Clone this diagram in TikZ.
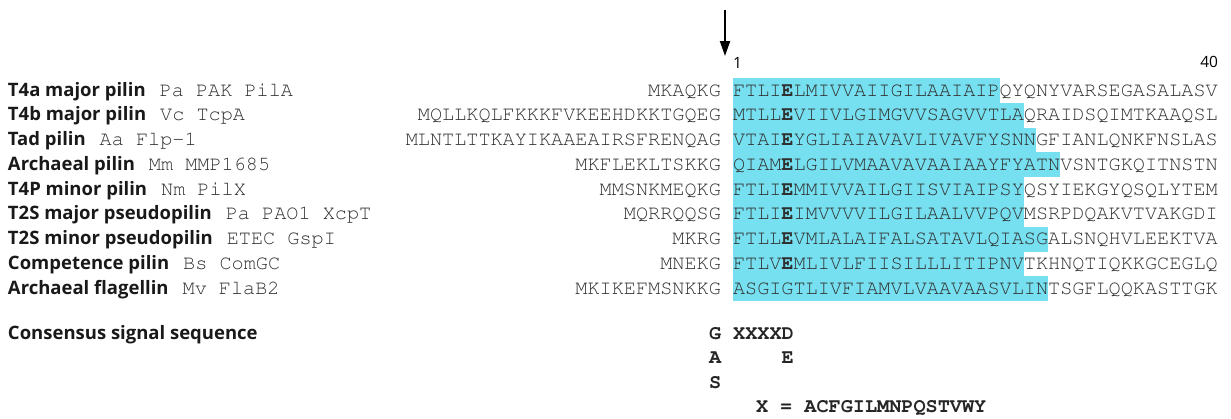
\documentclass[tikz,border=0pt]{standalone}
\usepackage[T1]{fontenc}
\usepackage{fontspec}
\setsansfont{Open Sans}
\usetikzlibrary{positioning,arrows.meta}

\definecolor{sigcyan}{RGB}{118,224,240}
\definecolor{seqgray}{RGB}{48,48,48}
\newcommand{\seqfont}{\fontencoding{T1}\fontfamily{pcr}\fontsize{20.2}{24}\selectfont}
\newcommand{\consfont}{\fontencoding{T1}\fontfamily{pcr}\fontseries{b}\fontsize{20.2}{24}\selectfont}
\newcommand{\labfont}{\fontsize{18.5}{22}\selectfont\sffamily\bfseries}
\newcommand{\numfont}{\fontsize{15.5}{18}\selectfont\sffamily}

\begin{document}
\begin{tikzpicture}[x=1pt, y=-1pt,
    every node/.style={inner sep=0pt, outer sep=0pt},
    seq/.style={font=\seqfont, text=seqgray},
    sig/.style={seq, fill=sigcyan, text height=18pt, text depth=7pt},
    lab/.style={font=\labfont, text=black!90},
    cons/.style={font=\consfont, text=black!85}]

\useasboundingbox (0,0) rectangle (1231,418);

% Cleavage site and numbering
\coordinate (top) at (725,10);
\coordinate (cut) at (725,56);
\draw[line width=2pt, -{Triangle[length=15pt, width=10pt]}] (top) -- (cut);
\node[font=\numfont, anchor=base west] (first) at (733,68) {1};
\node[font=\numfont, anchor=base east] (last) at (1218,67) {40};

% Pilin names
\foreach \i/\nm/\sp in {
  1/T4a major pilin/Pa PAK PilA,
  2/T4b major pilin/Vc TcpA,
  3/Tad pilin/Aa Flp-1,
  4/Archaeal pilin/Mm MMP1685,
  5/T4P minor pilin/Nm PilX,
  6/T2S major pseudopilin/Pa PAO1 XcpT,
  7/T2S minor pseudopilin/ETEC GspI,
  8/Competence pilin/Bs ComGC,
  9/Archaeal flagellin/Mv FlaB2}
{
  \node[lab, anchor=base west] (name-\i) at (8,{96+24.75*(\i-1)}) {\nm};
  \node[seq, base right=14pt of name-\i] (spec-\i) {\sp};
}

% Sequences, signal peptide in cyan
\foreach \i/\pre/\sig/\post in {
  1/MKAQKG/FTLI\textbf{E}LMIVVAIIGILAAIAIP/QYQNYVARSEGASALASV,
  2/MQLLKQLFKKKFVKEEHDKKTGQEG/MTLL\textbf{E}VIIVLGIMGVVSAGVVTLA/QRAIDSQIMTKAAQSL,
  3/MLNTLTTKAYIKAAEAIRSFRENQAG/VTAI\textbf{E}YGLIAIAVAVLIVAVFYSNN/GFIANLQNKFNSLAS,
  4/MKFLEKLTSKKG/QIAM\textbf{E}LGILVMAAVAVAAIAAYFYATN/VSNTGKQITNSTN,
  5/MMSNKMEQKG/FTLI\textbf{E}MMIVVAILGIISVIAIPSY/QSYIEKGYQSQLYTEM,
  6/MQRRQQSG/FTLI\textbf{E}IMVVVVILGILAALVVPQV/MSRPDQAKVTVAKGDI,
  7/MKRG/FTLL\textbf{E}VMLALAIFALSATAVLQIASG/ALSNQHVLEEKTVA,
  8/MNEKG/FTLV\textbf{E}MLIVLFIISILLLITIPNV/TKHNQTIQKKGCEGLQ,
  9/MKIKEFMSNKKG/ASGIGTLIVFIAMVLVAAVAASVLIN/TSGFLQQKASTTGK}
{
  \node[sig, anchor=base west] (sig-\i) at (733,{96+24.75*(\i-1)}) {\sig};
  \node[seq, base left=12.1pt of sig-\i] (pre-\i) {\pre};
  \node[seq, base right=0pt of sig-\i] (post-\i) {\post};
}

% Consensus
\node[lab, anchor=base west] (cons) at (8,339) {Consensus signal sequence};
\node[cons, anchor=base west] (cons-1) at (709,339) {G XXXXD};
\node[cons, anchor=base west] (cons-2) at (709,363.5) {A\phantom{XXXXX}E};
\node[cons, anchor=base west] (cons-3) at (709,388) {S};
\node[cons, anchor=base west] (alph) at (756,412) {X = ACFGILMNPQSTVWY};
\end{tikzpicture}
\end{document}
